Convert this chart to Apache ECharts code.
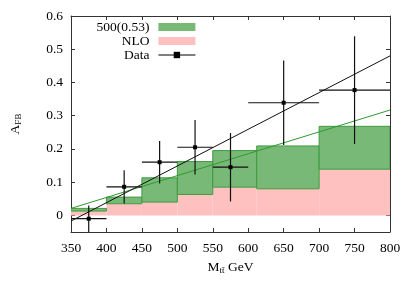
<!DOCTYPE html>
<html>
<head>
<meta charset="utf-8">
<script src="https://cdn.jsdelivr.net/npm/echarts@6/dist/echarts.min.js"></script>
<style>html,body{margin:0;padding:0;background:#fff;}#c{width:415px;height:291px;}</style>
</head>
<body>
<div id="c"></div>
<script>
// ---- data ----
const binEdges = [350, 400, 450, 500, 550, 612, 700, 800];
const nloTop = [0.013, 0.035, 0.040, 0.063, 0.085, 0.080, 0.139];
const bsmTop = [0.021, 0.055, 0.113, 0.162, 0.195, 0.209, 0.268];

const dataX   = [375, 425, 475, 525, 575, 650, 750];
const dataXlo = [350, 400, 450, 500, 550, 600, 700];
const dataXhi = [400, 450, 500, 550, 600, 700, 800];
const dataY   = [-0.010, 0.086, 0.160, 0.205, 0.145, 0.339, 0.377];
const dataErr = [0.040, 0.050, 0.064, 0.082, 0.103, 0.127, 0.162];

const dataFitX = [350, 800];
const dataFitY = [-0.017, 0.480];
const bsmFitX = [350, 800];
const bsmFitY = [0.021, 0.317];

const xTicks = [350, 400, 450, 500, 550, 600, 650, 700, 750, 800];
const yTicks = [0, 0.1, 0.2, 0.3, 0.4, 0.5, 0.6];
const yTickLabels = ['0', '0.1', '0.2', '0.3', '0.4', '0.5', '0.6'];

// ---- styles ----
const FONT = 'Liberation Serif';
const FS = 13.5;
const GREEN = '#78b978';
const GREEN_EDGE = '#3f9a3f';
const PINK = '#ffc0c0';
const AXC = '#333';

const nloData = nloTop.map((v, i) => [binEdges[i], binEdges[i + 1], 0, v]);
const bsmData = bsmTop.map((v, i) => [binEdges[i], binEdges[i + 1], nloTop[i], v]);
const errData = dataX.map((x, i) => [x, dataY[i], dataXlo[i], dataXhi[i], dataErr[i]]);

function bandRenderer(fill, stroke) {
  return function (params, api) {
    const p0 = api.coord([api.value(0), api.value(3)]);
    const p1 = api.coord([api.value(1), api.value(2)]);
    return {
      type: 'rect',
      shape: { x: p0[0], y: p0[1], width: p1[0] - p0[0], height: p1[1] - p0[1] },
      style: { fill: fill, stroke: stroke, lineWidth: stroke ? 1 : 0 }
    };
  };
}

function errRenderer(params, api) {
  const x = api.value(0), y = api.value(1), xl = api.value(2), xh = api.value(3), e = api.value(4);
  const a = api.coord([xl, y]), b = api.coord([xh, y]);
  const c = api.coord([x, y - e]), d = api.coord([x, y + e]);
  const st = { stroke: '#111', lineWidth: 1.2 };
  return {
    type: 'group',
    children: [
      { type: 'line', shape: { x1: a[0], y1: a[1], x2: b[0], y2: b[1] }, style: st },
      { type: 'line', shape: { x1: c[0], y1: c[1], x2: d[0], y2: d[1] }, style: st }
    ]
  };
}

const tickCommon = { inside: true, length: 4, lineStyle: { color: AXC } };

const option = {
  animation: false,
  backgroundColor: '#fff',
  grid: { left: 67, right: 25, top: 16, bottom: 59 },
  legend: {
    orient: 'vertical',
    align: 'right',
    right: 219,
    top: 20,
    padding: 0,
    itemGap: 0,
    itemWidth: 37,
    itemHeight: 8,
    selectedMode: false,
    textStyle: { fontFamily: FONT, fontSize: FS, color: '#000', padding: [0, 4, 0, 0] },
    data: [
      { name: '500(0.53)', icon: 'rect', itemStyle: { color: GREEN, borderWidth: 0 } },
      { name: 'NLO', icon: 'rect', itemStyle: { color: PINK, borderWidth: 0 } },
      { name: 'Data', itemStyle: { color: '#000' }, lineStyle: { color: '#000', width: 1.2, opacity: 1 } }
    ]
  },
  xAxis: [
    {
      type: 'value', min: 350, max: 800, interval: 50, position: 'bottom',
      name: '{a|M}{s|tt\u0304}{a| GeV}', nameLocation: 'middle', nameGap: 27,
      nameTextStyle: {
        fontFamily: FONT, color: '#000',
        rich: {
          a: { fontFamily: FONT, fontSize: FS, color: '#000' },
          s: { fontFamily: FONT, fontSize: 9, color: '#000', padding: [7, 0, 0, 0] }
        }
      },
      axisLine: { show: true, onZero: false, lineStyle: { color: AXC, width: 1 } },
      axisTick: Object.assign({}, tickCommon, { customValues: xTicks }),
      axisLabel: { customValues: xTicks, fontFamily: FONT, fontSize: FS, color: '#000', margin: 9 },
      splitLine: { show: false }
    },
    {
      type: 'value', min: 350, max: 800, interval: 50, position: 'top',
      axisLine: { show: true, onZero: false, lineStyle: { color: AXC, width: 1 } },
      axisTick: Object.assign({}, tickCommon, { customValues: xTicks }),
      axisLabel: { show: false },
      splitLine: { show: false }
    }
  ],
  yAxis: [
    {
      type: 'value', min: -0.05, max: 0.6, position: 'left',
      name: '{a|A}{s|FB}', nameLocation: 'middle', nameGap: 48, nameRotate: 90,
      nameTextStyle: {
        fontFamily: FONT, color: '#000',
        rich: {
          a: { fontFamily: FONT, fontSize: FS, color: '#000' },
          s: { fontFamily: FONT, fontSize: 9, color: '#000', padding: [7, 0, 0, 0] }
        }
      },
      axisLine: { show: true, onZero: false, lineStyle: { color: AXC, width: 1 } },
      axisTick: Object.assign({}, tickCommon, { customValues: yTicks }),
      axisLabel: {
        customValues: yTicks, fontFamily: FONT, fontSize: FS, color: '#000', margin: 8,
        formatter: function (v) {
          const i = yTicks.findIndex(t => Math.abs(t - v) < 1e-9);
          return i >= 0 ? yTickLabels[i] : '';
        }
      },
      splitLine: { show: false }
    },
    {
      type: 'value', min: -0.05, max: 0.6, position: 'right',
      axisLine: { show: true, onZero: false, lineStyle: { color: AXC, width: 1 } },
      axisTick: Object.assign({}, tickCommon, { customValues: yTicks }),
      axisLabel: { show: false },
      splitLine: { show: false }
    }
  ],
  series: [
    {
      name: 'NLO', type: 'custom', xAxisIndex: 0, yAxisIndex: 0, clip: true,
      itemStyle: { color: PINK }, renderItem: bandRenderer(PINK, null),
      data: nloData, z: 1, silent: true
    },
    {
      name: '500(0.53)', type: 'custom', xAxisIndex: 0, yAxisIndex: 0, clip: true,
      itemStyle: { color: GREEN }, renderItem: bandRenderer(GREEN, GREEN_EDGE),
      data: bsmData, z: 2, silent: true
    },
    {
      name: 'bsmfit', type: 'line', xAxisIndex: 0, yAxisIndex: 0, symbol: 'none', clip: true,
      lineStyle: { color: '#2f9a2f', width: 1 }, z: 3, silent: true,
      data: bsmFitX.map((x, i) => [x, bsmFitY[i]])
    },
    {
      name: 'datafit', type: 'line', xAxisIndex: 0, yAxisIndex: 0, symbol: 'none', clip: true,
      lineStyle: { color: '#111', width: 1 }, z: 4, silent: true,
      data: dataFitX.map((x, i) => [x, dataFitY[i]])
    },
    {
      name: 'errbars', type: 'custom', xAxisIndex: 0, yAxisIndex: 0, clip: true,
      renderItem: errRenderer, data: errData, z: 5, silent: true
    },
    {
      name: 'Data', type: 'line', xAxisIndex: 0, yAxisIndex: 0, clip: true,
      symbol: 'rect', symbolSize: 4, showSymbol: true,
      itemStyle: { color: '#000' }, lineStyle: { opacity: 0, width: 0 },
      data: dataX.map((x, i) => [x, dataY[i]]), z: 6, silent: true
    }
  ]
};

const chart = echarts.init(document.getElementById('c'), null, { renderer: 'canvas' });
chart.setOption(option);
</script>
</body>
</html>
